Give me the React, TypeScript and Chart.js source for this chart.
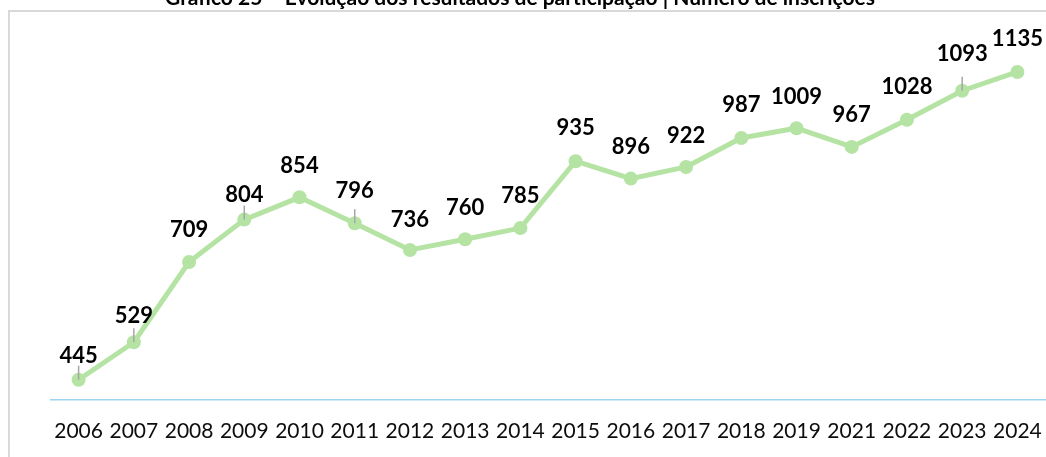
import React, { useEffect, useRef } from "react";
import { Chart, registerables } from "chart.js";

Chart.register(...registerables);

const titleText = "Gráfico 25 – Evolução dos resultados de participação | Número de inscrições";
const years = ["2006", "2007", "2008", "2009", "2010", "2011", "2012", "2013", "2014", "2015", "2016", "2017", "2018", "2019", "2021", "2022", "2023", "2024"];
const inscricoes = [445, 529, 709, 804, 854, 796, 736, 760, 785, 935, 896, 922, 987, 1009, 967, 1028, 1093, 1135];
const leaderLineYears = ["2006", "2007", "2009", "2011", "2023"];

const GREEN = "#b5e3a4";
const FONT = "Lato, 'Open Sans', sans-serif";
const CANVAS_W = 1052;

// label lift above point (styling of label placement)
const labelLift = [24, 26, 32, 25, 31, 32, 30, 31, 32, 33, 32, 31, 33, 31, 32, 33, 37, 33];

const decorPlugin = {
  id: "decor",
  beforeDraw(chart: any) {
    const ctx = chart.ctx;
    ctx.save();
    ctx.fillStyle = "#ffffff";
    ctx.fillRect(0, 0, chart.width, chart.height);
    ctx.strokeStyle = "#d9d9d9";
    ctx.lineWidth = 2;
    ctx.beginPath();
    ctx.moveTo(9, chart.height + 2);
    ctx.lineTo(9, 11);
    ctx.lineTo(chart.width + 2, 11);
    ctx.stroke();
    ctx.fillStyle = "#000000";
    ctx.font = "bold 21px " + FONT;
    ctx.textAlign = "center";
    ctx.textBaseline = "alphabetic";
    ctx.fillText(titleText, 520, 5);
    ctx.restore();
  },
  afterDatasetsDraw(chart: any) {
    const ctx = chart.ctx;
    const meta = chart.getDatasetMeta(0);
    ctx.save();
    meta.data.forEach((pt: any, i: number) => {
      if (leaderLineYears.includes(years[i])) {
        ctx.strokeStyle = "#a6a6a6";
        ctx.lineWidth = 1.5;
        ctx.beginPath();
        ctx.moveTo(pt.x, pt.y);
        ctx.lineTo(pt.x, pt.y - 14);
        ctx.stroke();
      }
    });
    ctx.fillStyle = "#000000";
    ctx.font = "bold 22px " + FONT;
    ctx.textAlign = "center";
    ctx.textBaseline = "middle";
    meta.data.forEach((pt: any, i: number) => {
      ctx.fillText(String(inscricoes[i]), pt.x, pt.y - labelLift[i]);
    });
    ctx.restore();
  },
};

export default function App() {
  const ref = useRef<HTMLCanvasElement | null>(null);
  useEffect(() => {
    if (!ref.current) return;
    const chart = new Chart(ref.current, {
      type: "line",
      data: {
        labels: years,
        datasets: [
          {
            data: inscricoes,
            borderColor: GREEN,
            backgroundColor: GREEN,
            borderWidth: 5,
            pointRadius: 7,
            pointBackgroundColor: GREEN,
            pointBorderWidth: 0,
            tension: 0,
          },
        ],
      },
      options: {
        animation: false,
        responsive: false,
        maintainAspectRatio: false,
        layout: { padding: { left: 51, right: 0, top: 43, bottom: 13 } },
        plugins: { legend: { display: false }, tooltip: { enabled: false }, title: { display: false } },
        scales: {
          x: {
            offset: true,
            grid: { display: false, drawTicks: true, tickLength: 19 },
            border: { display: true, color: "#9dd5f0", width: 1.5 },
            ticks: { color: "#0d0d0d", font: { family: FONT, size: 21 }, padding: 0, maxRotation: 0, autoSkip: false },
          },
          y: { display: false, min: 400, max: 1200 },
        },
      },
      plugins: [decorPlugin],
    });
    return () => chart.destroy();
  }, []);
  return (
    <div style={{ position: "absolute", left: 0, top: 0, width: 1046, height: 457, overflow: "hidden" }}>
      <canvas ref={ref} width={CANVAS_W} height={457} style={{ display: "block" }} />
    </div>
  );
}
